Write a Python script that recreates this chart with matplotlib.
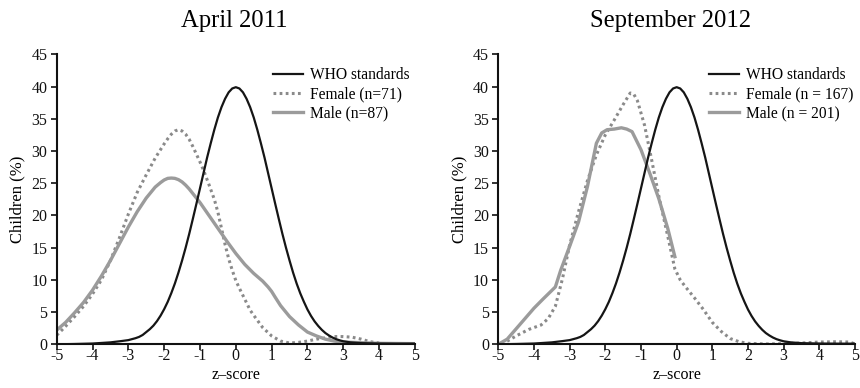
import matplotlib
matplotlib.use("Agg")
import matplotlib.pyplot as plt

plt.rcParams['font.family'] = ['Liberation Serif', 'DejaVu Serif']

# WHO reference distribution (same for both surveys)
who_z = [-5, -4.5, -4, -3.5, -3.2, -3.0, -2.9, -2.8, -2.7,
         -2.6, -2.5, -2.4, -2.3, -2.2, -2.1, -2.0, -1.9, -1.8, -1.7, -1.6,
         -1.5, -1.4, -1.3, -1.2, -1.1, -1.0, -0.9, -0.8, -0.7, -0.6,
         -0.5, -0.4, -0.3, -0.2, -0.1, 0.0, 0.1, 0.2, 0.3, 0.4,
         0.5, 0.6, 0.7, 0.8, 0.9, 1.0, 1.1, 1.2, 1.3, 1.4,
         1.5, 1.6, 1.7, 1.8, 1.9, 2.0, 2.1, 2.2, 2.3, 2.4,
         2.5, 2.6, 2.7, 2.8, 2.9, 3.0, 3.2, 3.5, 4.0, 4.5, 5.0]
who_pct = [0.0, 0.05, 0.12, 0.3, 0.5, 0.65, 0.8, 0.95, 1.15,
           1.45, 1.9, 2.35, 2.9, 3.6, 4.45, 5.45, 6.6, 7.95, 9.45, 11.15,
           13.0, 15.0, 17.15, 19.45, 21.8, 24.2, 26.6, 29.0, 31.2, 33.3,
           35.2, 36.8, 38.1, 39.1, 39.7, 39.9, 39.7, 39.1, 38.1, 36.8,
           35.2, 33.3, 31.2, 29.0, 26.6, 24.2, 21.8, 19.45, 17.15, 15.0,
           13.0, 11.1, 9.4, 7.9, 6.6, 5.4, 4.4, 3.55, 2.85, 2.25,
           1.75, 1.37, 1.05, 0.8, 0.62, 0.47, 0.3, 0.18, 0.12, 0.1, 0.1]

# April 2011
apr_female_z = [-5, -4.75, -4.5, -4.25, -4, -3.75, -3.5, -3.25, -3, -2.75, -2.5,
                -2.25, -2, -1.9, -1.8, -1.7, -1.6, -1.5, -1.4, -1.3, -1.2, -1.1,
                -1, -0.9, -0.75, -0.6, -0.5, -0.4, -0.3, -0.2, -0.1, 0, 0.1,
                0.25, 0.4, 0.5, 0.75, 1, 1.25, 1.5, 1.75, 2, 2.25, 2.5, 2.75, 3,
                3.25, 3.5, 3.75, 4]
apr_female_pct = [1.4, 2.8, 4.3, 5.9, 7.8, 10.0, 13.0, 16.5, 20.2, 23.6, 26.3,
                  28.9, 31.1, 31.9, 32.6, 33.1, 33.3, 33.1, 32.6, 31.8, 30.7, 29.5,
                  28.3, 27.0, 24.8, 22.5, 20.5, 18.0, 15.5, 13.3, 11.5, 9.9, 8.7,
                  7.0, 5.3, 4.5, 2.6, 1.3, 0.5, 0.2, 0.3, 0.5, 0.8, 1.0, 1.2, 1.2,
                  1.1, 0.8, 0.4, 0.2]
apr_male_z = [-5, -4.75, -4.5, -4.25, -4, -3.75, -3.5, -3.25, -3, -2.75, -2.5,
              -2.25, -2.1, -2, -1.9, -1.8, -1.7, -1.6, -1.5, -1.4, -1.3, -1.2,
              -1.1, -1, -0.75, -0.5, -0.25, 0, 0.25, 0.5, 0.75, 0.9, 1, 1.1,
              1.25, 1.5, 1.75, 2, 2.25, 2.5, 2.75, 3, 3.5, 4, 5]
apr_male_pct = [2.2, 3.4, 4.9, 6.5, 8.4, 10.6, 13.0, 15.6, 18.2, 20.6, 22.7,
                24.4, 25.1, 25.5, 25.75, 25.8, 25.75, 25.55, 25.2, 24.7, 24.1, 23.4,
                22.7, 22.0, 20.0, 18.0, 16.0, 14.1, 12.4, 11.0, 9.8, 8.9, 8.2, 7.3,
                6.0, 4.3, 3.0, 1.9, 1.3, 0.8, 0.5, 0.35, 0.25, 0.15, 0.1]

# September 2012
sep_female_z = [-4.9, -4.5, -4.15, -3.8, -3.6, -3.4, -3.2, -3, -2.75, -2.5, -2.25,
                -2, -1.75, -1.5, -1.3, -1.2, -1.1, -0.9, -0.7, -0.5, -0.25, -0.05,
                0.1, 0.25, 0.5, 0.75, 1, 1.25, 1.5, 1.75, 2, 2.5, 3, 3.5, 4, 4.5,
                4.85, 5]
sep_female_pct = [0.0, 1.3, 2.3, 3.0, 4.0, 5.9, 10.2, 15.4, 20.6, 25.4, 29.4,
                  32.5, 34.8, 37.2, 39.0, 38.8, 37.8, 34.0, 28.6, 23.0, 16.8, 11.7,
                  10.0, 8.9, 7.2, 5.4, 3.4, 2.0, 0.9, 0.4, 0.15, 0.05, 0.1, 0.2, 0.35, 0.4,
                  0.35, 0.05]
sep_male_z = [-5, -4.75, -4.5, -4.25, -4, -3.75, -3.4, -3.25, -3, -2.75, -2.5,
              -2.25, -2.1, -1.95, -1.75, -1.55, -1.4, -1.25, -1, -0.75, -0.5,
              -0.25, -0.05]
sep_male_pct = [0.0, 0.8, 2.4, 4.0, 5.6, 7.0, 8.9, 11.5, 15.2, 19.0, 24.5,
                31.2, 32.8, 33.3, 33.4, 33.6, 33.4, 33.0, 30.2, 26.5, 22.6,
                18.0, 13.6]

titles = ["April 2011", "September 2012"]
female_labels = ["Female (n=71)", "Female (n = 167)"]
male_labels = ["Male (n=87)", "Male (n = 201)"]
x_ticks = [-5, -4, -3, -2, -1, 0, 1, 2, 3, 4, 5]
y_ticks = [0, 5, 10, 15, 20, 25, 30, 35, 40, 45]

panels = [
    (apr_female_z, apr_female_pct, apr_male_z, apr_male_pct),
    (sep_female_z, sep_female_pct, sep_male_z, sep_male_pct),
]

fig = plt.figure(figsize=(8.6, 3.88), dpi=100)
rects = [
    [0.0659, 0.1126, 0.4166, 0.7474],
    [0.5794, 0.1126, 0.4148, 0.7474],
]
legend_x = [0.604, 0.591]
title_x = [0.497, 0.482]

for i, rect in enumerate(rects):
    ax = fig.add_axes(rect)
    fz, fp, mz, mp = panels[i]
    ax.plot(who_z, who_pct, color='#151515', lw=1.6, label='WHO standards',
            solid_joinstyle='round', zorder=3)
    ax.plot(fz, fp, color='#8a8a8a', lw=2.2, linestyle=(0, (0.9, 1.1)),
            label=female_labels[i], zorder=2)
    ax.plot(mz, mp, color='#9b9b9b', lw=2.4, label=male_labels[i],
            solid_joinstyle='round', zorder=2)

    ax.set_xlim(-5, 5)
    ax.set_ylim(0, 45)
    ax.set_xticks(x_ticks)
    ax.set_xticklabels([str(t) for t in x_ticks])
    ax.set_yticks(y_ticks)
    ax.set_yticklabels([str(t) for t in y_ticks])
    for side in ('top', 'right'):
        ax.spines[side].set_visible(False)
    for side in ('left', 'bottom'):
        ax.spines[side].set_linewidth(1.5)
        ax.spines[side].set_color('#111111')
    ax.tick_params(direction='out', length=4.2, width=1.2, labelsize=11.5,
                   colors='#111111')
    ax.tick_params(axis='x', pad=-1.5)
    ax.tick_params(axis='y', pad=2.5)
    ax.set_xlabel('z\u2013score', fontsize=11.5, labelpad=2)
    ax.set_ylabel('Children (%)', fontsize=12, labelpad=4)
    ax.set_title(titles[i], fontsize=17.7, pad=19.5, x=title_x[i])
    ax.legend(loc='upper left', bbox_to_anchor=(legend_x[i], 0.955),
              frameon=False, fontsize=11.2, handlelength=1.95,
              handletextpad=0.45, labelspacing=0.18, borderpad=0,
              borderaxespad=0)

fig.savefig('out.png', dpi=100)
